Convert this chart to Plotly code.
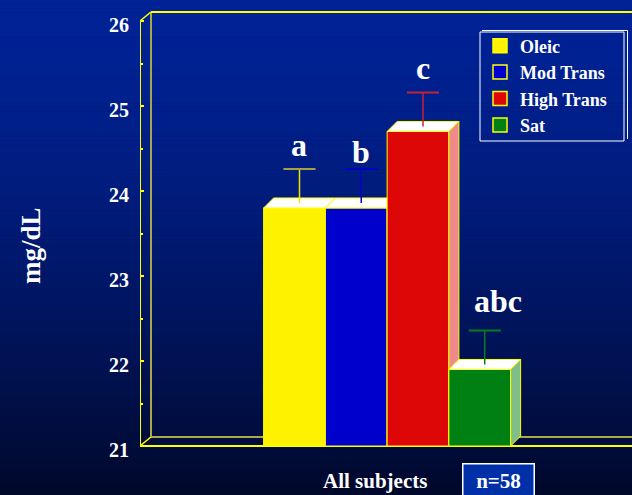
import plotly.graph_objects as go

# ---- data -------------------------------------------------------------
groups = ["Oleic", "Mod Trans", "High Trans", "Sat"]
means = [23.80, 23.80, 24.70, 21.90]          # mg/dL
sem = [0.40, 0.40, 0.40, 0.40]
letters = ["a", "b", "c", "abc"]
y_ticks = [21, 22, 23, 24, 25, 26]
y_minor = [21.5, 22.5, 23.5, 24.5, 25.5]
subgroup = "All subjects"
n_label = "n=58"

# ---- styling ----------------------------------------------------------
front_colors = ["#fff200", "#0000cc", "#de0707", "#007f12"]
side_colors = ["#f8f088", "#8080e6", "#f08a8a", "#80be88"]
err_colors = ["#f2e600", "#0000c8", "#c8203c", "#0a7a1e"]
cap_colors = ["#a8a040", "#0000c8", "#c8203c", "#0a7a1e"]
EDGE = "#ffff00"
OLIVE = "#aaa84c"
SERIF = "Liberation Serif"

W, H, L = 632, 495, 140
FLOOR, CEIL = 21, 26
X_LO, X_HI = -2.502, 5.466
Y_LO, Y_HI = 20.4235, 26.247
DX, DY = 0.162, 0.118      # bar depth offset
WDX, WDY = 0.178, 0.106    # wall depth offset
HALF = 0.5
CAP = 0.26
label_shift = [(0, 4), (0, -3), (0, 4), (13, 9)]


def px(x):
    return (x - L) / (W - L)


def py(y):
    return 1 - y / H


fig = go.Figure()


def poly(xs, ys, fill, lc=EDGE, lw=1):
    fig.add_trace(go.Scatter(
        x=xs + [xs[0]], y=ys + [ys[0]], mode="lines", fill="toself",
        fillcolor=fill, line=dict(color=lc, width=lw),
        showlegend=False, hoverinfo="skip", cliponaxis=False))


def seg(xs, ys, color, width):
    fig.add_trace(go.Scatter(
        x=xs, y=ys, mode="lines", line=dict(color=color, width=width),
        showlegend=False, hoverinfo="skip", cliponaxis=False))


# back wall and floor frame
bx = X_LO + WDX
seg([bx, bx], [FLOOR + WDY, CEIL + WDY], OLIVE, 2)
seg([bx, X_HI], [FLOOR + WDY, FLOOR + WDY], OLIVE, 2)
seg([bx, X_HI], [CEIL + WDY, CEIL + WDY], EDGE, 2)
seg([X_LO, bx], [CEIL, CEIL + WDY], EDGE, 1.5)
seg([X_LO, bx], [FLOOR, FLOOR + WDY], EDGE, 1.5)
seg([X_LO, X_LO], [FLOOR, CEIL], EDGE, 2)
seg([X_LO, X_HI], [FLOOR, FLOOR], EDGE, 2)

# 3-D bars: front, top and side faces, left to right
for i, v in enumerate(means):
    l, r = i - HALF, i + HALF
    poly([l, r, r, l], [FLOOR, FLOOR, v, v], front_colors[i])
    poly([l, r, r + DX, l + DX], [v, v, v + DY, v + DY], "#ffffff")
    poly([r, r + DX, r + DX, r], [FLOOR, FLOOR + DY, v + DY, v], side_colors[i])

# error bars rising from the mid-depth of each bar top
for i, (v, e) in enumerate(zip(means, sem)):
    xm = i + DX / 2
    y0 = v + DY / 2
    seg([xm, xm], [y0, y0 + e], err_colors[i], 1.5)
    seg([xm - CAP, xm + CAP], [y0 + e, y0 + e], cap_colors[i], 2)
    fig.add_annotation(
        x=xm, y=y0 + e, xref="x", yref="y", text=letters[i],
        showarrow=False, yanchor="bottom",
        xshift=label_shift[i][0], yshift=label_shift[i][1],
        font=dict(family=SERIF, size=32, color="white", weight="bold"))

# legend entries
for g, c in zip(groups, front_colors):
    fig.add_trace(go.Scatter(
        x=[None], y=[None], mode="markers", name=g,
        marker=dict(symbol="square", size=14, color=c,
                    line=dict(color=EDGE, width=1.5))))

# vertical background gradient
n_strips = 120
top_rgb = (0, 34, 150)
bot_rgb = (0, 8, 42)
for k in range(n_strips):
    t = ((k + 0.5) / n_strips) ** 1.5
    col = tuple(round(a + (b - a) * t) for a, b in zip(top_rgb, bot_rgb))
    fig.add_shape(type="rect", xref="paper", yref="paper",
                  x0=-0.3, x1=1.01,
                  y0=1 - (k + 1) / n_strips - 0.001, y1=1 - k / n_strips,
                  fillcolor="rgb(%d,%d,%d)" % col, line=dict(width=0),
                  layer="below")

# legend frame with its offset shadow line
fig.add_shape(type="rect", xref="paper", yref="paper",
              x0=px(480), x1=px(624), y0=py(141), y1=py(32),
              line=dict(color="white", width=1))
fig.add_shape(type="path", xref="paper", yref="paper",
              path="M %f %f L %f %f L %f %f" % (px(482), py(30.5), px(627.5), py(30.5),
                                              px(627.5), py(139)),
              line=dict(color="white", width=1))

fig.add_annotation(text="mg/dL", xref="paper", yref="paper",
                   x=px(31), y=py(246), xanchor="center", yanchor="middle",
                   textangle=-90, showarrow=False,
                   font=dict(family=SERIF, size=27, color="white", weight="bold"))
fig.add_annotation(text=subgroup, xref="paper", yref="paper",
                   x=px(375), y=py(481), xanchor="center", yanchor="middle",
                   showarrow=False,
                   font=dict(family=SERIF, size=21, color="white", weight="bold"))
fig.add_annotation(text=n_label, xref="paper", yref="paper",
                   x=px(498), y=py(463), xanchor="center", yanchor="top",
                   showarrow=False,
                   width=62, borderpad=4, bordercolor="white", borderwidth=1.5,
                   bgcolor="#0030a8",
                   font=dict(family=SERIF, size=21, color="white", weight="bold"))

fig.update_layout(
    width=W, height=H,
    margin=dict(l=L, r=0, t=0, b=0),
    paper_bgcolor="#001060", plot_bgcolor="rgba(0,0,0,0)",
    showlegend=True,
    legend=dict(x=px(480), y=py(27.5), xanchor="left", yanchor="top",
                bgcolor="rgba(0,0,0,0)", borderwidth=0,
                font=dict(family=SERIF, size=18, color="white", weight="bold")),
    xaxis=dict(range=[X_LO, X_HI], visible=False, fixedrange=True),
    yaxis=dict(range=[Y_LO, Y_HI], showgrid=False, zeroline=False,
               showline=False, ticks="inside", tickvals=y_ticks,
               ticklen=4, tickwidth=1.5, tickcolor=EDGE,
               ticklabelstandoff=10, ticklabelshift=4,
               minor=dict(tickvals=y_minor, ticks="inside", ticklen=3,
                          tickwidth=1.5, tickcolor=EDGE),
               tickfont=dict(family=SERIF, size=20, color="white", weight="bold"),
               fixedrange=True),
)

fig.write_html("out.html")
